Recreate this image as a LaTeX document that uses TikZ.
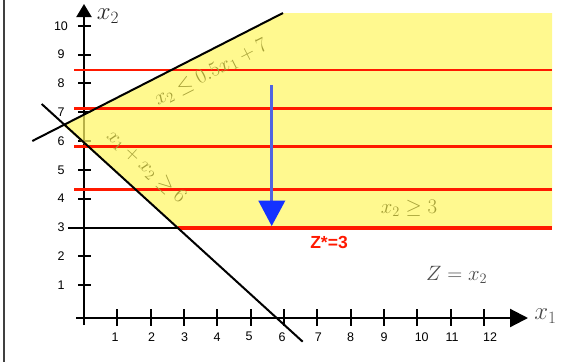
\documentclass[tikz,border=0pt]{standalone}
\usepackage{fontspec}
\newfontfamily\arialf{Liberation Sans}
\usetikzlibrary{arrows.meta}
\definecolor{feas}{RGB}{255,246,100}
\definecolor{redl}{RGB}{255,25,0}
\definecolor{olivet}{RGB}{165,160,55}
\definecolor{greyt}{RGB}{75,75,75}
\definecolor{bluel}{RGB}{80,100,225}
\definecolor{blueh}{RGB}{20,50,255}
\tikzset{
  axisline/.style={line width=2.2pt, black},
  tickline/.style={line width=2pt, black},
  ticklab/.style={font=\arialf\fontsize{12.5}{14}\selectfont, inner sep=0pt},
  bound/.style={line width=2pt, black},
  objline/.style={line width=2.5pt, redl},
  mathlab/.style={font=\fontsize{22}{24}\selectfont, inner sep=0pt},
}
\begin{document}
\begin{tikzpicture}[x=1pt,y=-1pt]
\useasboundingbox (0,0) rectangle (569,362);
% frame edge
\coordinate (ft) at (4,0); \coordinate (fb) at (4,362);
\draw[line width=1.5pt, black!75] (ft) -- (fb);
% axes
\coordinate (xs) at (76,318); \coordinate (xe) at (528,318);
\coordinate (ys) at (84,325); \coordinate (ye) at (84,4);
\draw[axisline, -{Triangle[length=18pt,width=18pt]}] (xs) -- (xe);
\draw[axisline, -{Triangle[length=13pt,width=15pt]}] (ys) -- (ye);
\foreach \k in {1,...,12} {
  \coordinate (xt\k a) at ({84+33.33*\k},309);
  \coordinate (xt\k b) at ({84+33.33*\k},326);
  \draw[tickline] (xt\k a) -- (xt\k b);
}
\foreach \k in {1,2,4,5,6,7,8,9,10} {
  \coordinate (yt\k a) at (78,{285-28.8*(\k-1)});
  \coordinate (yt\k b) at (91,{285-28.8*(\k-1)});
  \draw[tickline] (yt\k a) -- (yt\k b);
}
\foreach \k in {1,...,10} {
  \node[ticklab] (yl\k) at (61,{285-28.8*(\k-1)}) {\k};
}
\foreach \k/\xx in {1/115,2/151.7,3/184.7,4/217,5/249,6/282,7/318.3,8/350.7,9/384,10/421.7,11/452,12/490} {
  \node[ticklab] (xl\k) at (\xx,336.7) {\k};
}
% feasible region
\fill[feas, fill opacity=0.72] (62.7,125) -- (283,13) -- (552,13) -- (552,228) -- (178,228) -- cycle;
% tick 3 extension
\coordinate (t3a) at (68,228); \coordinate (t3b) at (178,228);
\draw[line width=1.6pt, black] (t3a) -- (t3b);
% objective lines
\foreach \yy/\n in {70/a,108.3/b,146.7/c,189.3/d} {
  \coordinate (r\n1) at (74,\yy); \coordinate (r\n2) at (552,\yy);
  \draw[objline] (r\n1) -- (r\n2);
}
\coordinate (ro1) at (178,228); \coordinate (ro2) at (552,228);
\draw[objline, line width=3.5pt] (ro1) -- (ro2);
% constraint lines
\coordinate (c1a) at (32.3,141); \coordinate (c1b) at (283,13);
\coordinate (c2a) at (41.7,104); \coordinate (c2b) at (302.7,341.7);
\draw[bound] (c1a) -- (c1b);
\draw[bound] (c2a) -- (c2b);
% direction arrow
\coordinate (ba) at (271.7,85); \coordinate (bb) at (271.7,202);
\draw[line width=3pt, bluel] (ba) -- (bb);
\coordinate (h1) at (258.3,200.7); \coordinate (h2) at (285.3,200.7); \coordinate (h3) at (271.7,226);
\fill[blueh] (h1) -- (h2) -- (h3) -- cycle;
% labels
\node[mathlab, font=\fontsize{26}{28}\selectfont, black!85] (lx2) at (108,16) {$x_2$};
\node[mathlab, font=\fontsize{26}{28}\selectfont, greyt] (lx1) at (545.5,316) {$x_1$};
\node[mathlab, olivet, rotate=27] (k1) at (211,73) {$x_2 \le 0.5x_1 + 7$};
\node[mathlab, olivet, rotate=-42.3] (k2) at (146,167) {$x_1 + x_2 \ge 6$};
\node[mathlab, olivet] (k3) at (409,208) {$x_2 \ge 3$};
\node[mathlab, greyt] (zz) at (456.7,275) {$Z = x_2$};
\node[font=\arialf\bfseries\fontsize{17.5}{19}\selectfont, redl, inner sep=0pt] (zs) at (329,242.7) {Z*=3};
\end{tikzpicture}
\end{document}
